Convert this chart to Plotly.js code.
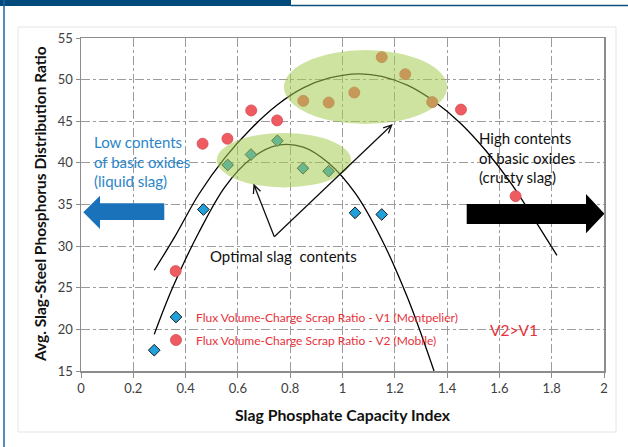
<!DOCTYPE html>
<html>
<head>
<meta charset="utf-8">
<script src="https://cdn.plot.ly/plotly-3.0.1.min.js"></script>
<style>html,body{margin:0;padding:0;background:#fff;}#chart{width:628px;height:447px;}</style>
</head>
<body>
<div id="chart"></div>
<script>
// ---- Data ----
const v1Name = "Flux Volume-Charge Scrap Ratio - V1 (Montpelier)";
const v1X = [0.28, 0.468, 0.561, 0.65, 0.751, 0.849, 0.947, 1.048, 1.15];
const v1Y = [17.5, 34.4, 39.75, 41.0, 42.66, 39.35, 39.0, 34.0, 33.8];

const v2Name = "Flux Volume-Charge Scrap Ratio - V2 (Mobile)";
const v2X = [0.362, 0.465, 0.56, 0.651, 0.75, 0.85, 0.947, 1.045, 1.15, 1.24, 1.343, 1.453, 1.662];
const v2Y = [27.0, 42.3, 42.9, 46.3, 45.1, 47.45, 47.25, 48.45, 52.7, 50.65, 47.3, 46.4, 36.0];

// trend curves
const outerX = [0.28, 0.36, 0.45, 0.55, 0.65, 0.75, 0.85, 0.95, 1.06, 1.15, 1.25, 1.35, 1.45, 1.55, 1.65, 1.75, 1.82];
const outerY = [27.1, 31.2, 36.2, 40.6, 44.1, 46.95, 49.0, 50.2, 50.7, 50.4, 49.3, 47.4, 44.8, 41.4, 37.3, 32.4, 28.9];
const innerX = [0.28, 0.35, 0.45, 0.55, 0.65, 0.75, 0.85, 0.95, 1.05, 1.15, 1.25, 1.35];
const innerY = [19.4, 25.0, 31.6, 37.1, 40.5, 42.1, 41.9, 39.9, 36.3, 30.8, 23.7, 15.0];

const xTicks = [0, 0.2, 0.4, 0.6, 0.8, 1, 1.2, 1.4, 1.6, 1.8, 2];
const xTickText = ["0", "0.2", "0.4", "0.6", "0.8", "1", "1.2", "1.4", "1.6", "1.8", "2"];
const yTicks = [15, 20, 25, 30, 35, 40, 45, 50, 55];

// ---- layout helpers (decoration positions) ----
const ML = 81, MT = 38, PW = 523, PH = 333;
const pX = px => (px - ML) / PW;            // pixel -> paper x
const pY = py => (MT + PH - py) / PH;       // pixel -> paper y
const dX = px => (px - ML) / PW * 2;        // pixel -> data x
const dY = py => 15 + (MT + PH - py) / PH * 40; // pixel -> data y

const FONT = "Lato, 'Open Sans', sans-serif";
const RED = "#e8313a";

const traces = [
  {x: outerX, y: outerY, type: "scatter", mode: "lines", line: {color: "#000", width: 1.3, shape: "spline"}, showlegend: false, hoverinfo: "skip"},
  {x: innerX, y: innerY, type: "scatter", mode: "lines", line: {color: "#000", width: 1.3, shape: "spline"}, showlegend: false, hoverinfo: "skip"},
  {x: v1X, y: v1Y, name: v1Name, type: "scatter", mode: "markers", legendgroup: "a",
   marker: {symbol: "diamond", size: 9, color: "#21a1dc", line: {color: "#1a1a1a", width: 1}}},
  {x: v2X, y: v2Y, name: v2Name, type: "scatter", mode: "markers", legendgroup: "b",
   marker: {symbol: "circle", size: 11, color: "#ee5c62", line: {color: "#d64a50", width: 0.8}}}
];

function vArrow(x0, y0, x1, y1) {
  const dx = x0 - x1, dy = y0 - y1, len = Math.hypot(dx, dy);
  const ux = dx / len, uy = dy / len, c = Math.cos(25 * Math.PI / 180), s = Math.sin(25 * Math.PI / 180), L = 9;
  const w1 = [x1 + L * (ux * c - uy * s), y1 + L * (ux * s + uy * c)];
  const w2 = [x1 + L * (ux * c + uy * s), y1 + L * (-ux * s + uy * c)];
  return {type: "path", xref: "x", yref: "y", layer: "above",
    path: `M${dX(x0)},${dY(y0)} L${dX(x1)},${dY(y1)} M${dX(w1[0])},${dY(w1[1])} L${dX(x1)},${dY(y1)} L${dX(w2[0])},${dY(w2[1])}`,
    line: {color: "#111", width: 1.3}};
}

function pathPx(pts) {
  return "M" + pts.map(p => dX(p[0]) + "," + dY(p[1])).join(" L") + " Z";
}

const shapes = [
  {type: "rect", xref: "paper", yref: "paper", x0: pX(18), x1: pX(616), y0: pY(432), y1: pY(27), line: {color: "#e4e4e4", width: 1}, layer: "below"},
  {type: "rect", xref: "paper", yref: "paper", x0: pX(0), x1: pX(291), y0: pY(6), y1: pY(0), fillcolor: "#004a7c", line: {width: 0}},
  {type: "line", xref: "paper", yref: "paper", x0: pX(291), x1: pX(628), y0: pY(5.5), y1: pY(5.5), line: {color: "#0f4f7e", width: 1.5}},
  {type: "line", xref: "paper", yref: "paper", x0: pX(4), x1: pX(4), y0: pY(0), y1: pY(447), line: {color: "#1f63a5", width: 1.5}},
  {type: "circle", xref: "x", yref: "y", x0: 0.776, x1: 1.40, y0: 44.66, y1: 53.55, fillcolor: "#a7cc52", opacity: 0.55, line: {width: 0}, layer: "above"},
  {type: "circle", xref: "x", yref: "y", x0: 0.519, x1: 1.033, y0: 37.05, y1: 43.6, fillcolor: "#a7cc52", opacity: 0.55, line: {width: 0}, layer: "above"},
  {type: "path", xref: "x", yref: "y", layer: "above", fillcolor: "#1a72bb", line: {width: 0},
   path: pathPx([[83.3, 212.3], [100, 195.7], [100, 203.3], [164.3, 203.3], [164.3, 220], [100, 220], [100, 229]])},
  {type: "path", xref: "x", yref: "y", layer: "above", fillcolor: "#000", line: {width: 0},
   path: pathPx([[466.7, 204], [586, 204], [586, 194], [604.5, 213.7], [586, 233.3], [586, 224], [466.7, 224]])},
  vArrow(274.3, 236.7, 254, 185),
  vArrow(274.3, 236.7, 391.7, 125)
];

const annotations = [
  {xref: "paper", yref: "paper", x: pX(343), y: pY(414), xanchor: "center", yanchor: "middle", text: "<b>Slag Phosphate Capacity Index</b>", showarrow: false, font: {family: FONT, size: 15.8, color: "#111"}},
  {xref: "paper", yref: "paper", x: pX(40), y: pY(204), xanchor: "center", yanchor: "middle", text: "<b>Avg. Slag-Steel Phosphorus Distribution Ratio</b>", textangle: -90, showarrow: false, font: {family: FONT, size: 15.5, color: "#111"}},
  {xref: "paper", yref: "paper", x: pX(92), y: pY(161), xanchor: "left", yanchor: "middle", align: "left", showarrow: false,
   text: "Low contents<br>of basic oxides<br>(liquid slag)", font: {family: FONT, size: 15, color: "#2a86c8"}},
  {xref: "paper", yref: "paper", x: pX(477), y: pY(157.5), xanchor: "left", yanchor: "middle", align: "left", showarrow: false,
   text: "High contents<br>of basic oxides<br>(crusty slag)", font: {family: FONT, size: 15, color: "#111"}},
  {xref: "paper", yref: "paper", x: pX(208), y: pY(255.7), xanchor: "left", yanchor: "middle", showarrow: false,
   text: "Optimal slag  contents", font: {family: FONT, size: 15, color: "#111"}},
  {xref: "paper", yref: "paper", x: pX(514), y: pY(329.5), xanchor: "center", yanchor: "middle", showarrow: false,
   text: "V2>V1", font: {family: FONT, size: 15.5, color: RED}}
];

const layout = {
  width: 628, height: 447,
  margin: {l: ML, r: 628 - ML - PW, t: MT, b: 447 - MT - PH, pad: 0},
  paper_bgcolor: "#fff", plot_bgcolor: "#fff",
  font: {family: FONT, size: 13, color: "#404040"},
  showlegend: true,
  legend: {x: pX(156), y: pY(302.5), xanchor: "left", yanchor: "top", bgcolor: "rgba(0,0,0,0)",
    font: {family: FONT, size: 12, color: RED}, traceorder: "grouped", tracegroupgap: 4, itemwidth: 30},
  xaxis: {range: [0, 2], tickvals: xTicks, ticktext: xTickText, showgrid: true, gridcolor: "#9c9c9c", griddash: "dashdot", gridwidth: 1,
    showline: true, linecolor: "#8c8c8c", linewidth: 1.5, mirror: true, ticks: "outside", ticklen: 5, tickcolor: "#8c8c8c",
    zeroline: false, tickfont: {family: FONT, size: 13, color: "#404040"}, fixedrange: true},
  yaxis: {range: [15, 55], tickvals: yTicks, showgrid: true, gridcolor: "#9c9c9c", griddash: "dashdot", gridwidth: 1,
    showline: true, linecolor: "#8c8c8c", linewidth: 1.5, mirror: true, ticks: "outside", ticklen: 4, tickcolor: "#8c8c8c",
    zeroline: false, tickfont: {family: FONT, size: 13, color: "#404040"}, fixedrange: true},
  shapes: shapes,
  annotations: annotations
};

Plotly.newPlot("chart", traces, layout, {displayModeBar: false, staticPlot: true});
</script>
</body>
</html>
